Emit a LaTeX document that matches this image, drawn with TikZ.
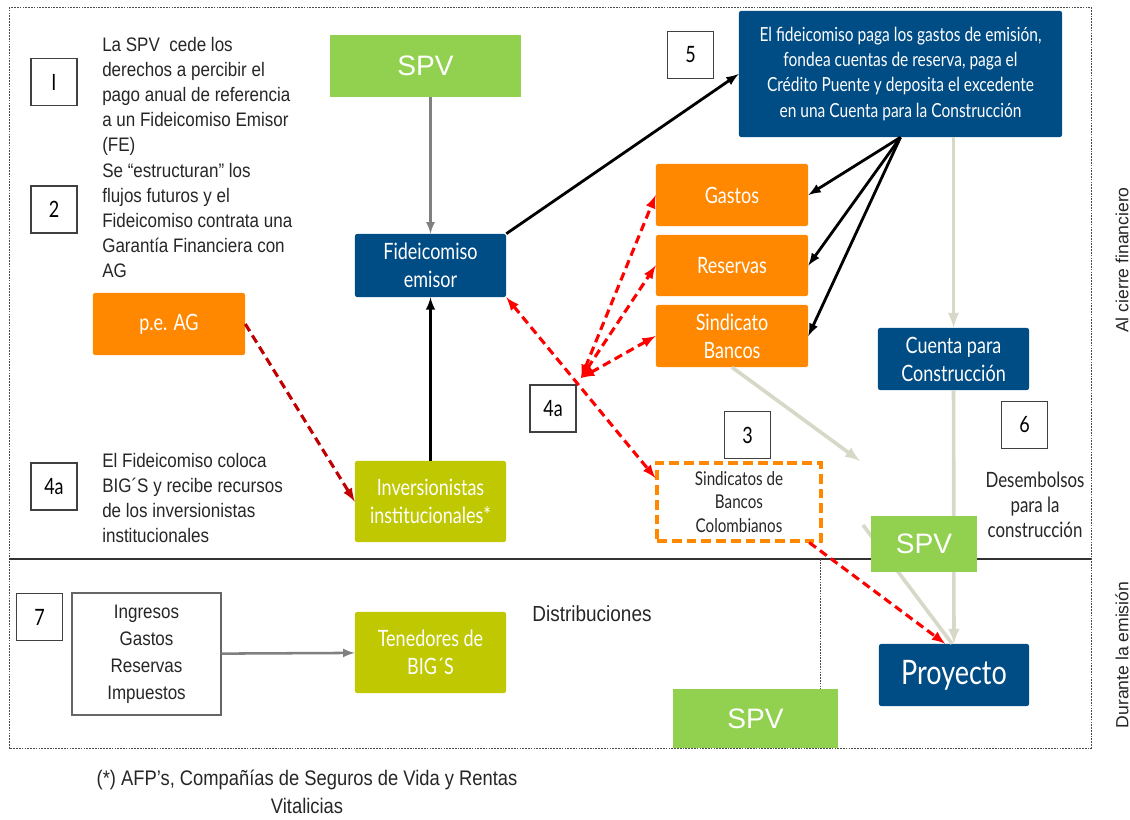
\documentclass[tikz,border=0pt]{standalone}
\usepackage{fontspec}
\setmainfont{Liberation Sans}[FakeStretch=0.87]
\newfontfamily\arialfont{Liberation Sans}
\newfontfamily\gillfont{Lato}[FakeStretch=0.8]
\usepackage{xcolor}
\usetikzlibrary{arrows}

\definecolor{fidblue}{RGB}{0,76,133}
\definecolor{agorange}{RGB}{255,136,0}
\definecolor{involive}{RGB}{191,200,0}
\definecolor{spvgreen}{RGB}{146,208,80}
\definecolor{flowbeige}{RGB}{216,216,200}
\definecolor{darkred}{RGB}{192,0,0}

\tikzset{
  bluebox/.style={fill=fidblue, text=white, rounded corners=1.5pt, inner sep=0pt, align=center,
    font=\gillfont\fontsize{16}{20}\selectfont},
  orangebox/.style={bluebox, fill=agorange},
  olivebox/.style={bluebox, fill=involive},
  spvbox/.style={fill=spvgreen, text=white, inner sep=0pt, font=\arialfont\fontsize{20}{24}\selectfont},
  numbox/.style={draw=black!75, line width=0.8pt, fill=white, inner sep=0pt,
    minimum width=1.15cm, minimum height=1.175cm, font=\gillfont\fontsize{16}{20}\selectfont},
  bodytext/.style={inner sep=0pt, align=left, text=black!85, font=\fontsize{13.9}{17.8}\selectfont},
  framedash/.style={draw=black!70, line width=0.6pt, dash pattern=on 1.2pt off 0.8pt},
  blackarrow/.style={->, line width=2pt},
  grayarrow/.style={->, draw=black!50, line width=1.8pt},
  beigearrow/.style={->, draw=flowbeige, line width=2.6pt},
  reddash/.style={red, line width=2.2pt, dash pattern=on 6pt off 3.5pt}
}

\begin{document}
\begin{tikzpicture}[x=0.025cm,y=-0.025cm,>=latex]
  \useasboundingbox (0,0) rectangle (1130,820);
  % frame of the two stages
  \draw[framedash] (9,7) rectangle (1091,748);
  \draw[black!80, line width=0.8pt] (9,559) -- (1091,559);
  \draw[framedash] (820,559) -- (820,748);
  \node[rotate=90, font=\arialfont\fontsize{12.5}{15}\selectfont, text=black!85] (lblcierre) at (1122,260) {Al cierre financiero};
  \node[rotate=90, font=\arialfont\fontsize{12.5}{15}\selectfont, text=black!85] (lblemision) at (1122,655) {Durante la emisión};

  % left column texts
  \node[numbox] (n1) at (54,82) {I};
  \node[numbox] (n2) at (54,209.5) {2};
  \node[numbox] (n4l) at (54,486.5) {4a};
  \node[numbox] (n7) at (39.5,617) {7};
  \node[bodytext, anchor=north west] (t1) at (102,37) {La SPV\ \ cede los\\derechos a percibir el\\pago anual de referencia\\a un Fideicomiso Emisor\\(FE)};
  \node[bodytext, anchor=north west] (t2) at (102,163) {Se “estructuran” los\\flujos futuros y el\\Fideicomiso contrata una\\Garantía Financiera con\\AG};
  \node[bodytext, anchor=north west] (t4) at (102,453) {El Fideicomiso coloca\\BIG´S y recibe recursos\\de los inversionistas\\institucionales};

  % main boxes
  \node[spvbox, minimum width=4.775cm, minimum height=1.55cm] (spvtop) at (425.5,66) {SPV};
  \node[bluebox, minimum width=3.775cm, minimum height=1.575cm] (fide) at (430.5,265.5) {Fideicomiso\\emisor};
  \node[orangebox, minimum width=3.8cm, minimum height=1.55cm] (peag) at (169,324) {p.e. AG};
  \node[olivebox, minimum width=3.775cm, minimum height=2.025cm] (inver) at (430.5,501.5) {Inversionistas\\institucionales*};
  \node[olivebox, minimum width=3.775cm, minimum height=2.025cm] (tened) at (430.5,652.5) {Tenedores de\\BIG´S};
  \node[draw=black!60, line width=0.8pt, inner sep=0pt, minimum width=3.725cm, minimum height=3.05cm,
    align=center, text=black!85, font=\fontsize{13.9}{19.2}\selectfont] (ingr) at (146.5,654) {Ingresos\\Gastos\\Reservas\\Impuestos};
  \node[inner sep=0pt, text=black!85, font=\fontsize{15.5}{18}\selectfont] (distr) at (592,614) {Distribuciones};

  \node[numbox] (n5) at (690.5,55) {5};
  \node[bluebox, minimum width=8.075cm, minimum height=3.15cm, font=\gillfont\fontsize{13.8}{17.8}\selectfont] (big) at (900.5,74)
    {El fideicomiso paga los gastos de emisión,\\fondea cuentas de reserva, paga el\\Crédito Puente y deposita el excedente\\en una Cuenta para la Construcción};
  \node[orangebox, minimum width=3.8cm, minimum height=1.55cm] (gastos) at (732,195) {Gastos};
  \node[orangebox, minimum width=3.8cm, minimum height=1.525cm] (reservas) at (732,265.5) {Reservas};
  \node[orangebox, minimum width=3.8cm, minimum height=1.55cm] (sindic) at (732,336) {Sindicato\\Bancos};
  \node[numbox] (n4m) at (553,408.5) {4a};
  \node[numbox] (n3) at (747.5,435) {3};
  \node[draw=agorange, line width=2.2pt, dash pattern=on 7pt off 3.5pt, inner sep=0pt, minimum width=4.1cm, minimum height=1.95cm,
    align=center, text=black!85, font=\gillfont\fontsize{13.5}{17}\selectfont] (sbc) at (739,502) {Sindicatos de\\Bancos\\Colombianos};
  \node[bluebox, minimum width=3.775cm, minimum height=1.55cm] (cuenta) at (953.5,359) {Cuenta para\\Construcción};
  \node[numbox] (n6) at (1024.5,425) {6};
  \node[inner sep=0pt, align=center, text=black!85, font=\gillfont\fontsize{15}{18}\selectfont] (desemb) at (1035,505) {Desembolsos\\para la\\construcción};
  \node[bluebox, minimum width=3.75cm, minimum height=1.55cm, font=\gillfont\fontsize{24}{28}\selectfont] (proy) at (954,675) {Proyecto};

  % flows
  \coordinate (hub) at (581,378);
  \coordinate (bgap1) at (860,461);
  \coordinate (bgap2) at (863,525);
  \draw[grayarrow] (spvtop.south -| fide) -- (fide.north);
  \draw[blackarrow] (inver) -- (fide);
  \draw[blackarrow] (fide.north east) -- (big.west);
  \draw[blackarrow] (big.south) -- (gastos.east);
  \draw[blackarrow] (big.south) -- (reservas.east);
  \draw[blackarrow] (big.south) -- (sindic.east);
  \draw[beigearrow] (big.south -| cuenta) -- (cuenta.north);
  \draw[beigearrow] (cuenta) -- (proy);
  \draw[beigearrow] (sindic.south) -- (bgap1);
  \draw[draw=flowbeige, line width=2.6pt] (bgap2) -- ([xshift=-0.05cm]proy.north);
  \draw[reddash, draw=darkred, ->] (peag.east) -- (inver.west);
  \draw[reddash, <->] (hub) -- (gastos.west);
  \draw[reddash, <->] (hub) -- (reservas.west);
  \draw[reddash, <->] (hub) -- (sindic.west);
  \draw[reddash, <->] (fide.south east) -- (sbc.164);
  \draw[reddash, ->] (sbc.-30) -- ([xshift=-0.22cm]proy.north);
  \draw[grayarrow] (ingr) -- (tened);

  % SPV labels over the flows
  \node[spvbox, minimum width=2.65cm, minimum height=1.4cm] (spvmid) at (924,544) {SPV};
  \node[spvbox, minimum width=4.125cm, minimum height=1.475cm] (spvbot) at (755.5,718.5) {SPV};

  % footnote
  \node[inner sep=0pt, align=center, text=black!85, font=\fontsize{15}{20}\selectfont] (foot) at (307,792)
    {(*) AFP's, Compañías de Seguros de Vida y Rentas\\Vitalicias};
\end{tikzpicture}
\end{document}
